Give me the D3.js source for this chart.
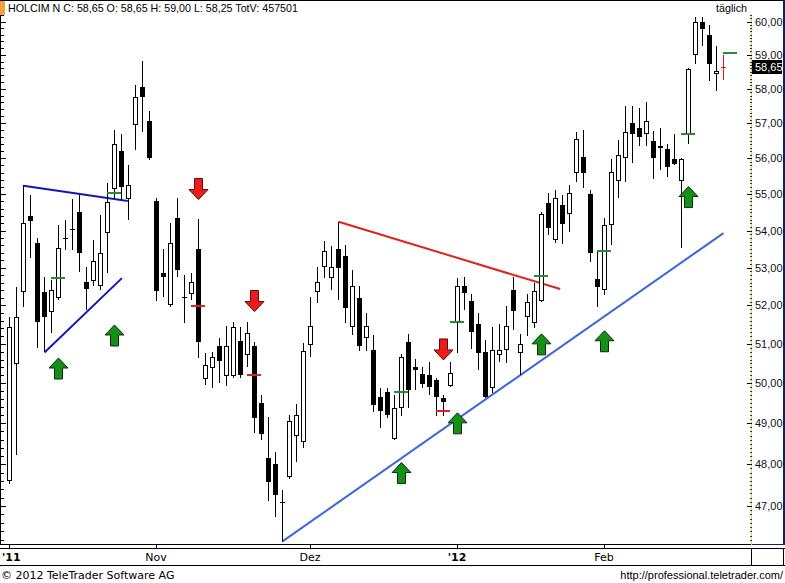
<!DOCTYPE html>
<html>
<head>
<meta charset="utf-8">
<script src="https://cdn.jsdelivr.net/npm/d3@7"></script>
<style>
body { margin: 0; background: #fff; }
svg { display: block; }
</style>
</head>
<body>
<div id="chart"></div>
<script>
// HOLCIM N, daily candles 3 Oct 2011 .. 24 Feb 2012
var opens = [47.62,50.52,52.37,54.40,53.65,52.35,51.86,52.21,53.80,54.03,
             54.50,52.61,52.67,52.54,53.96,55.16,56.21,54.88,56.97,58.04,
             57.06,54.81,52.85,52.04,54.33,52.23,52.32,53.50,50.12,50.42,
             50.95,50.22,50.22,51.08,50.74,50.95,49.50,48.16,48.00,47.10,
             47.72,48.71,48.57,51.01,52.37,53.04,52.76,53.50,53.31,51.47,
             52.20,51.17,50.84,49.65,49.79,48.63,49.41,51.04,50.40,50.24,
             50.20,50.08,49.62,49.96,51.60,52.51,52.12,51.52,50.80,49.91,
             50.73,50.86,52.41,50.80,51.72,51.58,52.14,54.75,53.77,54.70,
             54.47,55.63,56.04,55.00,52.69,52.43,54.17,55.39,56.04,57.01,
             56.87,56.72,56.49,56.36,56.26,55.97,55.39,56.72,59.03,59.99,
             59.59,58.45,58.65];
var highs = [51.70,52.49,55.25,54.98,53.79,52.75,52.67,54.15,54.29,54.86,
             54.98,53.03,53.74,54.42,55.30,56.81,56.69,55.81,58.11,58.82,
             57.35,54.90,53.50,54.21,54.89,52.80,52.86,54.31,50.77,50.80,
             51.16,51.46,51.57,51.44,51.57,51.05,49.70,49.15,48.30,47.38,
             49.21,49.48,51.02,52.21,53.01,53.71,53.58,54.24,53.61,52.94,
             52.51,51.79,51.23,49.88,49.88,49.70,50.75,51.25,50.62,50.42,
             50.54,50.13,49.70,50.54,52.72,52.74,52.30,51.81,51.10,51.44,
             51.51,51.98,52.76,51.25,52.30,52.58,54.50,55.02,55.11,54.97,
             55.25,56.75,56.81,55.11,53.45,54.33,55.99,56.52,57.49,57.49,
             57.45,57.61,56.79,56.86,56.42,56.69,56.00,58.62,60.15,60.15,
             59.89,59.26,59.00];
var lows = [47.52,48.22,51.97,53.25,50.89,50.80,51.28,52.14,53.47,53.47,
            52.87,51.88,52.50,52.41,52.85,54.89,54.84,54.29,56.24,56.76,
            55.95,52.12,52.21,51.97,52.76,51.53,52.14,50.63,49.96,49.87,
            50.01,49.92,50.12,50.12,50.42,48.75,48.59,47.12,46.75,46.16,
            47.64,48.06,48.39,50.67,52.07,52.72,52.41,52.14,51.53,51.23,
            50.82,50.82,49.27,48.89,49.13,48.59,49.17,49.37,49.83,49.87,
            49.70,49.17,49.17,49.91,50.77,51.88,50.88,50.33,49.63,49.75,
            50.55,50.52,51.36,50.20,51.20,51.42,52.10,53.88,53.66,53.64,
            53.97,55.34,55.16,53.15,51.97,52.28,53.61,54.89,55.34,55.86,
            56.34,56.34,55.41,55.67,55.47,55.81,53.52,56.42,58.74,59.25,
            58.23,57.94,58.25];
var closes = [51.44,51.71,54.21,54.27,51.58,51.71,52.41,53.54,53.80,54.03,
              53.38,52.43,53.18,53.38,54.79,56.40,55.19,55.25,57.77,57.77,
              56.01,52.37,52.76,53.67,52.94,52.23,52.61,51.06,50.46,50.66,
              50.57,50.95,51.45,50.22,51.29,49.14,48.73,47.58,47.26,47.10,
              49.06,49.21,50.82,51.46,52.61,53.44,53.03,52.98,51.93,52.50,
              50.95,51.46,49.45,49.31,49.21,49.37,50.66,49.83,50.34,49.99,
              49.90,49.66,49.54,50.26,52.51,52.32,51.32,50.77,49.66,50.84,
              50.84,51.46,51.86,50.99,52.10,52.39,54.44,54.06,54.88,54.18,
              55.04,56.54,55.58,53.38,52.48,54.15,55.61,56.09,56.76,56.69,
              56.62,57.06,56.01,56.29,55.76,55.83,55.97,58.59,59.99,59.76,
              58.73,58.52,58.65];

// month labels on the time axis (candle index)
var monthIdx = [0, 21, 43, 64, 85];
var monthLabels = ["'11", "Nov", "Dez", "'12", "Feb"];
var monthBold = [true, false, false, true, false];

// price axis
var priceTicks = [47, 48, 49, 50, 51, 52, 53, 54, 55, 56, 57, 58, 59, 60];
var lastPrice = 58.65;

// trading signals
var buyIdx = [7, 15, 56, 64, 76, 85, 97];
var buyArrowAt = [50.64, 51.49, 48.04, 49.26, 51.26, 51.34, 55.21];
var sellIdx = [27, 35, 62];
var sellArrowAt = [54.85, 51.84, 50.59];
var stopIdx = [7, 15, 27, 35, 56, 62, 64, 76, 85, 97, 103];
var stopLevel = [52.76, 55.07, 52.01, 50.24, 49.80, 49.32, 51.60, 52.80, 53.46, 56.71, 59.09];
var stopKind = ["buy", "buy", "sell", "sell", "buy", "sell", "buy", "buy", "buy", "buy", "buy"];

// trend lines [index, price]
var trendKind = ["flag", "flag", "resistance", "support"];
var trendFrom = [[2, 55.23], [5, 50.78], [47, 54.24], [39, 46.17]];
var trendTo = [[16.9, 54.81], [16.06, 52.72], [78.67, 52.43], [102, 53.93]];

var trendColors = { flag: "#1616b8", resistance: "#e3201e", support: "#3c66dc" };
var signalColors = { buy: "#158f15", sell: "#ee1b1b" };
var stopColors = { buy: "#2b8a2b", sell: "#dd2222" };

var svgWidth = 785;
var svgHeight = 583;
var plotRight = 751;
var plotBottom = 545;

var svg = d3.select("#chart")
    .append("svg")
    .attr("width", svgWidth)
    .attr("height", svgHeight)
    .style("font-family", "'Liberation Sans', Arial, sans-serif");

var x = d3.scaleLinear().domain([0, 106]).range([9, 751]);
var y = d3.scaleLog().domain([47, 60]).range([506, 21.5]);

function cx(i) { return Math.round(x(i)); }

// frame
var frame = svg.append("g").attr("shape-rendering", "crispEdges");
frame.append("line").attr("x1", 0).attr("x2", svgWidth).attr("y1", 0.5).attr("y2", 0.5).attr("stroke", "#000");
frame.append("line").attr("x1", 0.5).attr("x2", 0.5).attr("y1", 14).attr("y2", plotBottom).attr("stroke", "#000");
frame.append("line").attr("x1", 0).attr("x2", plotRight).attr("y1", plotBottom - 0.5).attr("y2", plotBottom - 0.5).attr("stroke", "#000");
frame.append("line").attr("x1", plotRight).attr("x2", 785).attr("y1", plotBottom - 0.5).attr("y2", plotBottom - 0.5).attr("stroke", "#0c2466");
frame.append("line").attr("x1", 0).attr("x2", svgWidth).attr("y1", 548.5).attr("y2", 548.5).attr("stroke", "#000");
frame.append("line").attr("x1", 0).attr("x2", svgWidth).attr("y1", 565.5).attr("y2", 565.5).attr("stroke", "#000");
frame.append("line").attr("x1", 783.5).attr("x2", 783.5).attr("y1", 0).attr("y2", plotBottom).attr("stroke", "#0c2466").attr("stroke-width", 2);
frame.append("line").attr("x1", plotRight + 0.5).attr("x2", plotRight + 0.5).attr("y1", 548).attr("y2", 565).attr("stroke", "#000");
frame.append("line").attr("x1", 783.5).attr("x2", 783.5).attr("y1", 548).attr("y2", 565).attr("stroke", "#000");

// orange marker in the header
svg.append("rect").attr("x", 0).attr("y", 1).attr("width", 5).attr("height", 14).attr("fill", "#f2a23a");

svg.append("text")
    .attr("x", 8).attr("y", 12)
    .attr("font-size", "10.7px")
    .text("HOLCIM N C: 58,65 O: 58,65 H: 59,00 L: 58,25 TotV: 457501");

svg.append("text")
    .attr("x", 747).attr("y", 12)
    .attr("text-anchor", "end")
    .attr("font-size", "10.7px")
    .text("täglich");

// left axis ticks
var leftMinor = d3.range(46.2, 60.21, 0.2);
frame.selectAll(".lminor")
    .data(leftMinor)
    .join("line")
    .attr("x1", 1).attr("x2", 4)
    .attr("y1", d => Math.round(y(d)) + 0.5)
    .attr("y2", d => Math.round(y(d)) + 0.5)
    .attr("stroke", "#000");
frame.selectAll(".lmajor")
    .data(priceTicks)
    .join("line")
    .attr("x1", 1).attr("x2", 6)
    .attr("y1", d => Math.round(y(d)) + 0.5)
    .attr("y2", d => Math.round(y(d)) + 0.5)
    .attr("stroke", "#000");

// right axis: dotted line with ticks
frame.append("line")
    .attr("x1", plotRight + 0.5).attr("x2", plotRight + 0.5)
    .attr("y1", 14).attr("y2", plotBottom)
    .attr("stroke", "#e5cf7e");
var rightMinor = d3.range(46.2, 60.21, 0.1);
frame.selectAll(".rminor")
    .data(rightMinor)
    .join("line")
    .attr("x1", plotRight - 1).attr("x2", plotRight + 1)
    .attr("y1", d => Math.round(y(d)) + 0.5)
    .attr("y2", d => Math.round(y(d)) + 0.5)
    .attr("stroke", "#333");
frame.selectAll(".rmajor")
    .data(priceTicks)
    .join("line")
    .attr("x1", plotRight - 4).attr("x2", plotRight + 1)
    .attr("y1", d => Math.round(y(d)) + 0.5)
    .attr("y2", d => Math.round(y(d)) + 0.5)
    .attr("stroke", "#000");

svg.selectAll(".plabel")
    .data(priceTicks)
    .join("text")
    .attr("x", 755)
    .attr("y", d => y(d) + 4)
    .attr("font-size", "11px")
    .attr("fill", "#111")
    .text(d => d3.format(".2f")(d).replace(".", ","));

// last price tag
svg.append("rect")
    .attr("x", 752).attr("y", Math.round(y(lastPrice)) - 7)
    .attr("width", 30).attr("height", 14)
    .attr("fill", "#000");
svg.append("text")
    .attr("x", 755).attr("y", y(lastPrice) + 4)
    .attr("font-size", "11px")
    .attr("fill", "#fff")
    .text(d3.format(".2f")(lastPrice).replace(".", ","));

// time axis
frame.selectAll(".xtick")
    .data(monthIdx)
    .join("line")
    .attr("x1", d => cx(d) + 0.5).attr("x2", d => cx(d) + 0.5)
    .attr("y1", 545).attr("y2", 548)
    .attr("stroke", "#000");
svg.selectAll(".xlabel")
    .data(monthIdx)
    .join("text")
    .attr("x", (d, k) => k === 0 ? 2 : cx(d))
    .attr("y", 561)
    .attr("text-anchor", (d, k) => k === 0 ? "start" : "middle")
    .attr("font-family", "'DejaVu Sans', Verdana, sans-serif")
    .attr("font-size", "11px")
    .attr("font-weight", (d, k) => monthBold[k] ? "bold" : "normal")
    .text((d, k) => monthLabels[k]);

// footer
svg.append("text")
    .attr("x", 1).attr("y", 579)
    .attr("font-family", "'DejaVu Sans', Verdana, sans-serif")
    .attr("font-size", "11px")
    .text("© 2012 TeleTrader Software AG");
svg.append("text")
    .attr("x", 783).attr("y", 579)
    .attr("text-anchor", "end")
    .attr("font-size", "11px")
    .text("http://professional.teletrader.com/");

// trend lines
svg.append("g").selectAll("line")
    .data(trendKind)
    .join("line")
    .attr("x1", (d, k) => x(trendFrom[k][0]) + 0.5)
    .attr("y1", (d, k) => y(trendFrom[k][1]))
    .attr("x2", (d, k) => x(trendTo[k][0]) + 0.5)
    .attr("y2", (d, k) => y(trendTo[k][1]))
    .attr("stroke", d => trendColors[d])
    .attr("stroke-width", 2);

// candles
var candles = svg.append("g").attr("shape-rendering", "crispEdges");
var idx = d3.range(opens.length);
var last = opens.length - 1;

candles.selectAll(".wick")
    .data(idx)
    .join("line")
    .attr("x1", i => cx(i) + 0.5).attr("x2", i => cx(i) + 0.5)
    .attr("y1", i => Math.round(y(highs[i])))
    .attr("y2", i => Math.round(y(lows[i])))
    .attr("stroke", i => i === last ? "#e01818" : "#000");

candles.selectAll(".body")
    .data(idx.filter(i => Math.abs(y(opens[i]) - y(closes[i])) >= 1))
    .join("rect")
    .attr("x", i => closes[i] >= opens[i] ? cx(i) - 1.5 : cx(i) - 2)
    .attr("width", i => closes[i] >= opens[i] ? 4 : 5)
    .attr("y", i => Math.round(y(Math.max(opens[i], closes[i]))) + (closes[i] >= opens[i] ? 0.5 : 0))
    .attr("height", i => Math.max(1, Math.round(y(Math.min(opens[i], closes[i]))) - Math.round(y(Math.max(opens[i], closes[i])))))
    .attr("fill", i => closes[i] >= opens[i] ? "#fff" : "#000")
    .attr("stroke", i => closes[i] >= opens[i] ? "#000" : "none");

candles.selectAll(".doji")
    .data(idx.filter(i => Math.abs(y(opens[i]) - y(closes[i])) < 1))
    .join("line")
    .attr("x1", i => cx(i) - 2).attr("x2", i => cx(i) + 3)
    .attr("y1", i => Math.round(y(closes[i])) + 0.5)
    .attr("y2", i => Math.round(y(closes[i])) + 0.5)
    .attr("stroke", i => i === last ? "#e01818" : "#000");

// stop levels
svg.append("g").attr("shape-rendering", "crispEdges")
    .selectAll("line")
    .data(stopIdx)
    .join("line")
    .attr("x1", i => cx(i) - 7).attr("x2", i => cx(i) + 7)
    .attr("y1", (i, k) => Math.round(y(stopLevel[k])) + 0.5)
    .attr("y2", (i, k) => Math.round(y(stopLevel[k])) + 0.5)
    .attr("stroke", (i, k) => stopColors[stopKind[k]])
    .attr("stroke-width", 2);

// signal arrows
var upArrow = "M0,0 L9.5,10 L4,10 L4,21 L-4,21 L-4,10 L-9.5,10 Z";
var downArrow = "M0,0 L9.5,-10 L4,-10 L4,-21 L-4,-21 L-4,-10 L-9.5,-10 Z";

svg.append("g").selectAll("path")
    .data(buyIdx)
    .join("path")
    .attr("d", upArrow)
    .attr("transform", (i, k) => "translate(" + (cx(i) + 0.5) + "," + y(buyArrowAt[k]) + ")")
    .attr("fill", signalColors.buy)
    .attr("stroke", "#0a2a0a");

svg.append("g").selectAll("path")
    .data(sellIdx)
    .join("path")
    .attr("d", downArrow)
    .attr("transform", (i, k) => "translate(" + (cx(i) + 0.5) + "," + y(sellArrowAt[k]) + ")")
    .attr("fill", signalColors.sell)
    .attr("stroke", "#5a0a0a");
</script>
</body>
</html>
